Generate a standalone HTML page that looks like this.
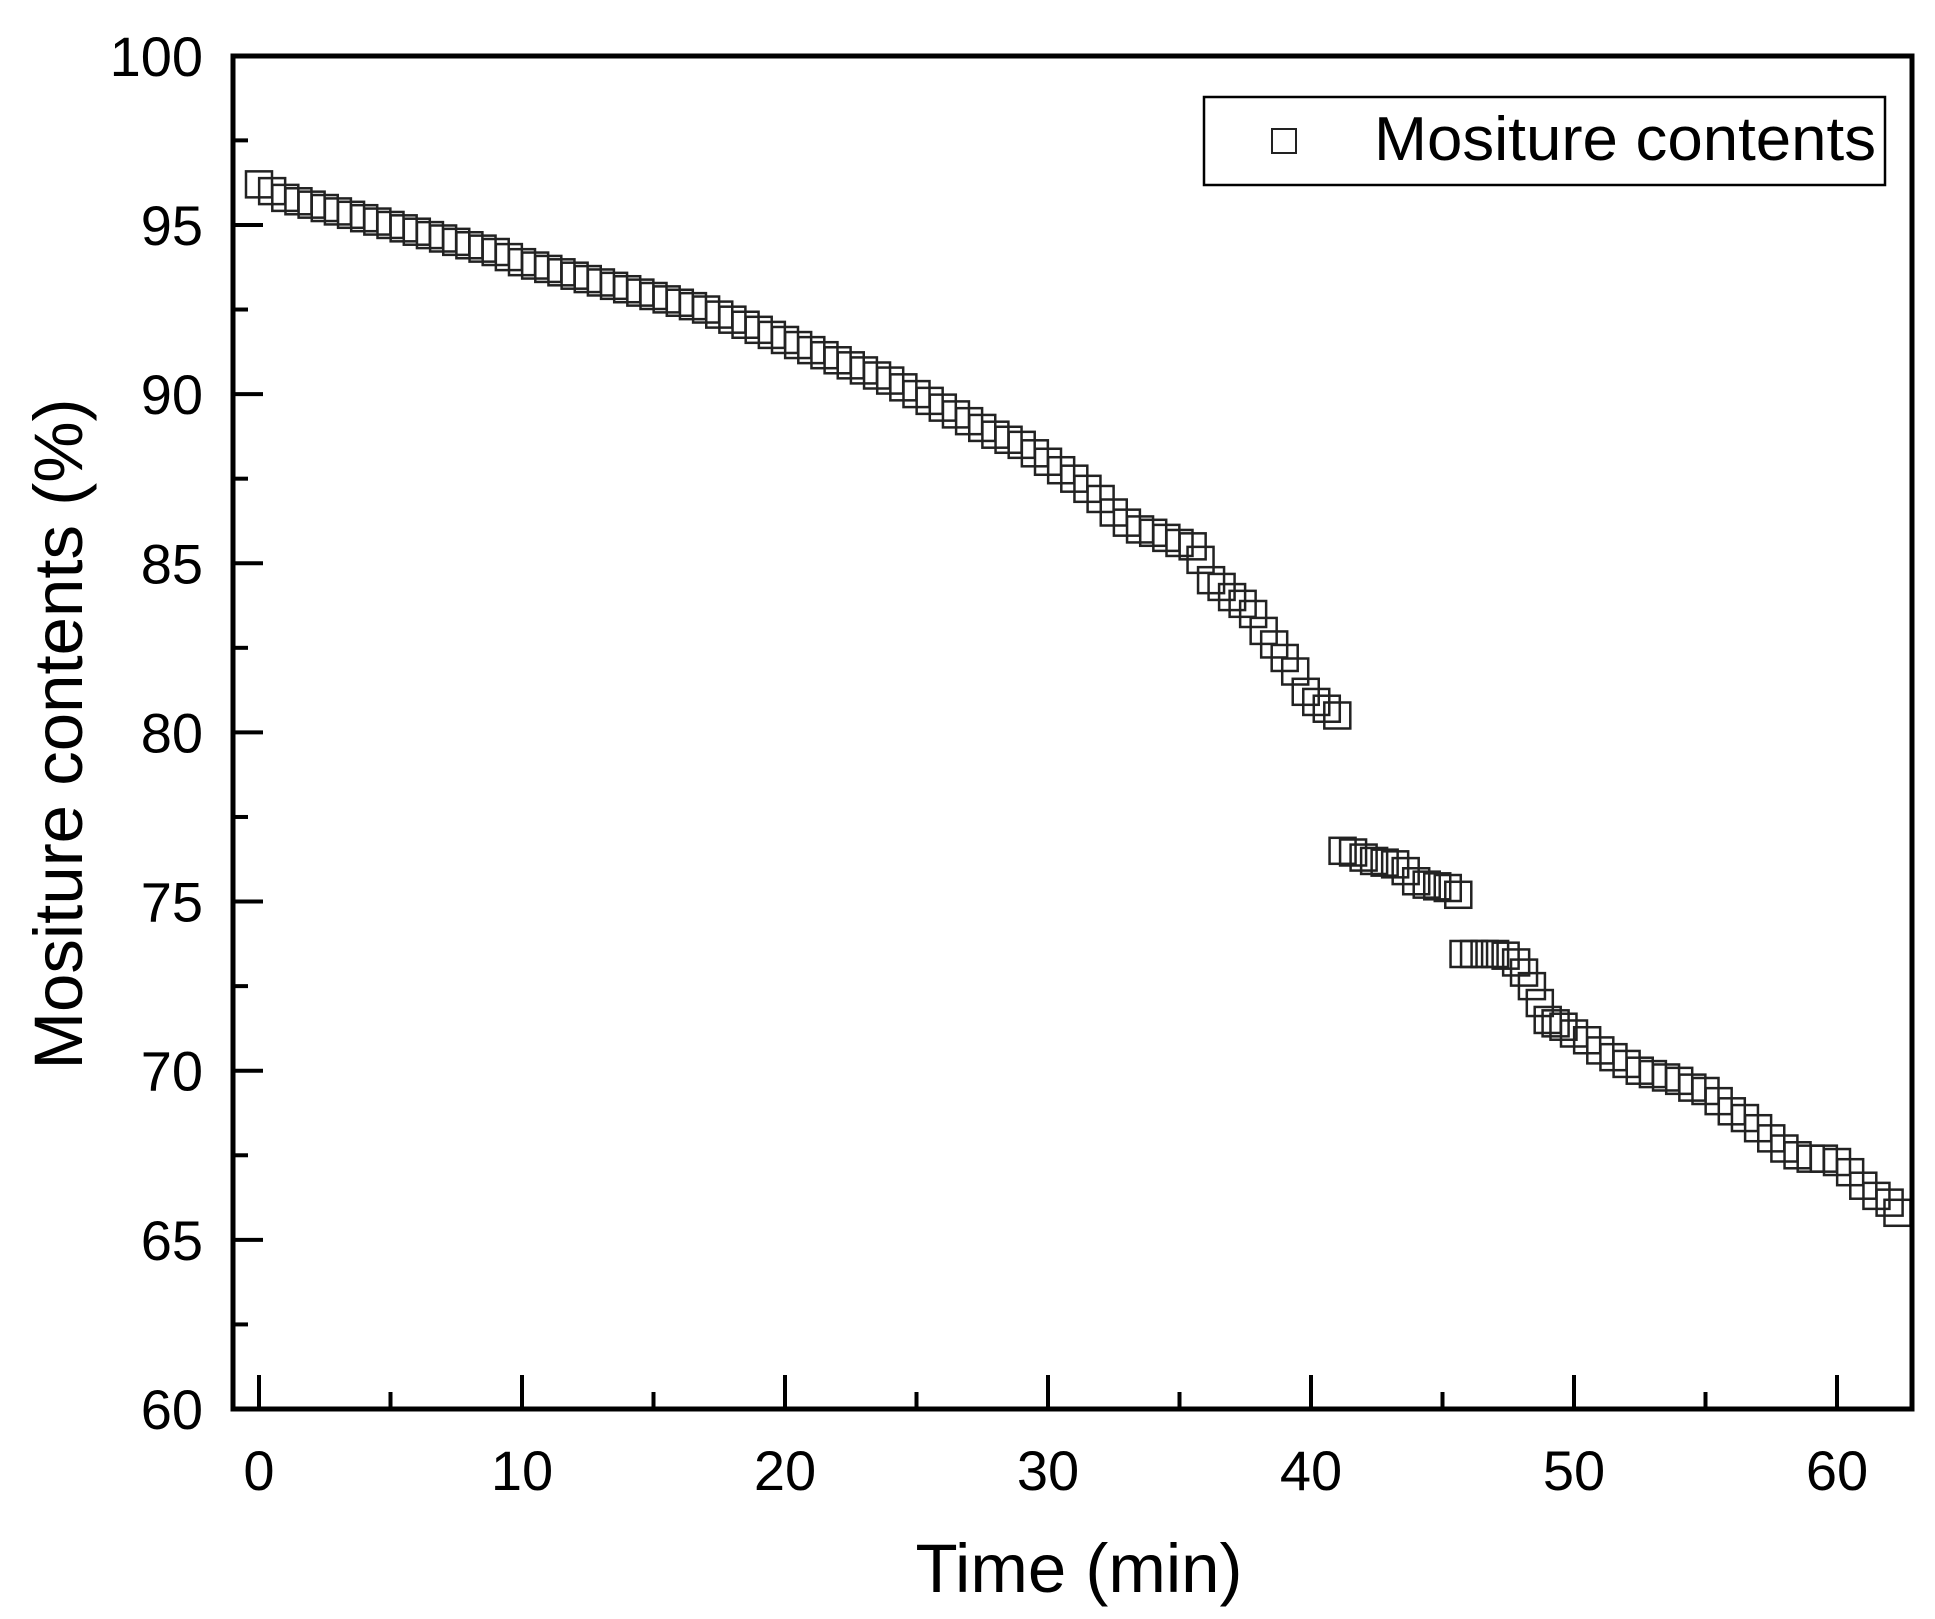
<!DOCTYPE html>
<html><head><meta charset="utf-8"><style>
html,body{margin:0;padding:0;background:#fff;}
svg{display:block;font-family:"Liberation Sans",Arial,sans-serif;}
</style></head><body>
<svg id="chart" width="1935" height="1619" viewBox="0 0 1935 1619">
<g id="axes"></g>
<g id="marks"></g>
<rect x="233" y="56" width="1679" height="1353" fill="none" stroke="#000" stroke-width="5"/>
<g>
<rect x="1204" y="97" width="681" height="88" fill="#fff" stroke="#000" stroke-width="2.5"/>
<rect x="1272" y="129" width="24" height="24" fill="none" stroke="#222" stroke-width="2"/>
<text x="1374" y="160" font-size="62" textLength="502" lengthAdjust="spacingAndGlyphs">Mositure contents</text>
</g>
<text transform="translate(82,734) rotate(-90)" text-anchor="middle" font-size="69">Mositure contents (%)</text>
<text x="1079" y="1592" text-anchor="middle" font-size="69">Time (min)</text>
</svg>
<script>
const times=[0,0.5,1,1.5,2,2.5,3,3.5,4,4.5,5,5.5,6,6.5,7,7.5,8,8.5,9,9.5,10,10.5,11,11.5,12,12.5,13,13.5,14,14.5,15,15.5,16,16.5,17,17.5,18,18.5,19,19.5,20,20.5,21,21.5,22,22.5,23,23.5,24,24.5,25,25.5,26,26.5,27,27.5,28,28.5,29,29.5,30,30.5,31,31.5,32,32.5,33,33.5,34,34.5,35,35.5,35.8,36.2,36.6,37,37.4,37.8,38.2,38.6,39,39.4,39.8,40.2,40.6,41,41.2,41.6,42,42.4,42.8,43.2,43.6,44,44.4,44.8,45.2,45.6,45.8,46.2,46.6,47,47.4,47.8,48.1,48.4,48.7,49,49.3,49.6,50,50.5,51,51.5,52,52.5,53,53.5,54,54.5,55,55.5,56,56.5,57,57.5,58,58.5,59,59.5,60,60.5,61,61.5,62,62.3];
const values=[96.2,96.0,95.8,95.7,95.6,95.5,95.4,95.3,95.2,95.1,95.0,94.9,94.8,94.7,94.6,94.5,94.4,94.3,94.2,94.05,93.9,93.8,93.7,93.6,93.5,93.4,93.3,93.2,93.1,93.0,92.9,92.8,92.7,92.6,92.5,92.35,92.2,92.05,91.9,91.75,91.6,91.45,91.3,91.15,91.0,90.85,90.7,90.55,90.4,90.2,90.0,89.8,89.6,89.4,89.2,89.0,88.8,88.65,88.5,88.25,88.0,87.75,87.5,87.2,86.9,86.5,86.2,86.0,85.9,85.75,85.6,85.5,85.1,84.5,84.3,84.0,83.8,83.5,83.0,82.6,82.2,81.8,81.2,80.9,80.7,80.5,76.5,76.45,76.3,76.2,76.15,76.1,75.9,75.6,75.5,75.45,75.4,75.2,73.45,73.45,73.45,73.45,73.4,73.2,72.9,72.5,72.0,71.5,71.4,71.3,71.1,70.9,70.6,70.4,70.2,70.0,69.9,69.8,69.7,69.5,69.4,69.1,68.8,68.6,68.3,68.0,67.7,67.5,67.4,67.4,67.3,67.0,66.6,66.3,66.1,65.8];
const xTicks=[0,10,20,30,40,50,60];
const yTicks=[60,65,70,75,80,85,90,95,100];
const X0=259,XS=26.3,Y0=1409,YS=33.83;
function sx(t){return X0+t*XS;}
function sy(v){return Y0-(v-60)*YS;}
const NS="http://www.w3.org/2000/svg";
const axes=document.getElementById('axes'),marks=document.getElementById('marks');
function mk(tag,attrs,parent){const e=document.createElementNS(NS,tag);for(const k in attrs)e.setAttribute(k,attrs[k]);parent.appendChild(e);return e;}
for(let t=0;t<=60;t+=5){
  const major=t%10===0;
  const l=mk('line',{x1:sx(t),x2:sx(t),y1:Y0,y2:Y0-(major?34:17),stroke:'#000','stroke-width':4},axes);
  
  
}
xTicks.forEach(t=>{
  const tx=mk('text',{x:sx(t),y:1490,'text-anchor':'middle','font-size':56},axes);
  tx.textContent=t;
  
  
});
for(let v=60;v<=100;v+=2.5){
  const major=v%5===0;
  const l=mk('line',{x1:233,x2:233+(major?30:15),y1:sy(v),y2:sy(v),stroke:'#000','stroke-width':4},axes);
  
  
}
yTicks.forEach(v=>{
  const tx=mk('text',{x:203,y:sy(v)+20,'text-anchor':'end','font-size':56},axes);
  tx.textContent=v;
  
  
});
const S=26;
times.forEach((t,i)=>{
  const r=mk('rect',{x:sx(t)-S/2,y:sy(values[i])-S/2,width:S,height:S,fill:'none',stroke:'#222','stroke-width':2.5},marks);
  
  
});
</script>
</body></html>
